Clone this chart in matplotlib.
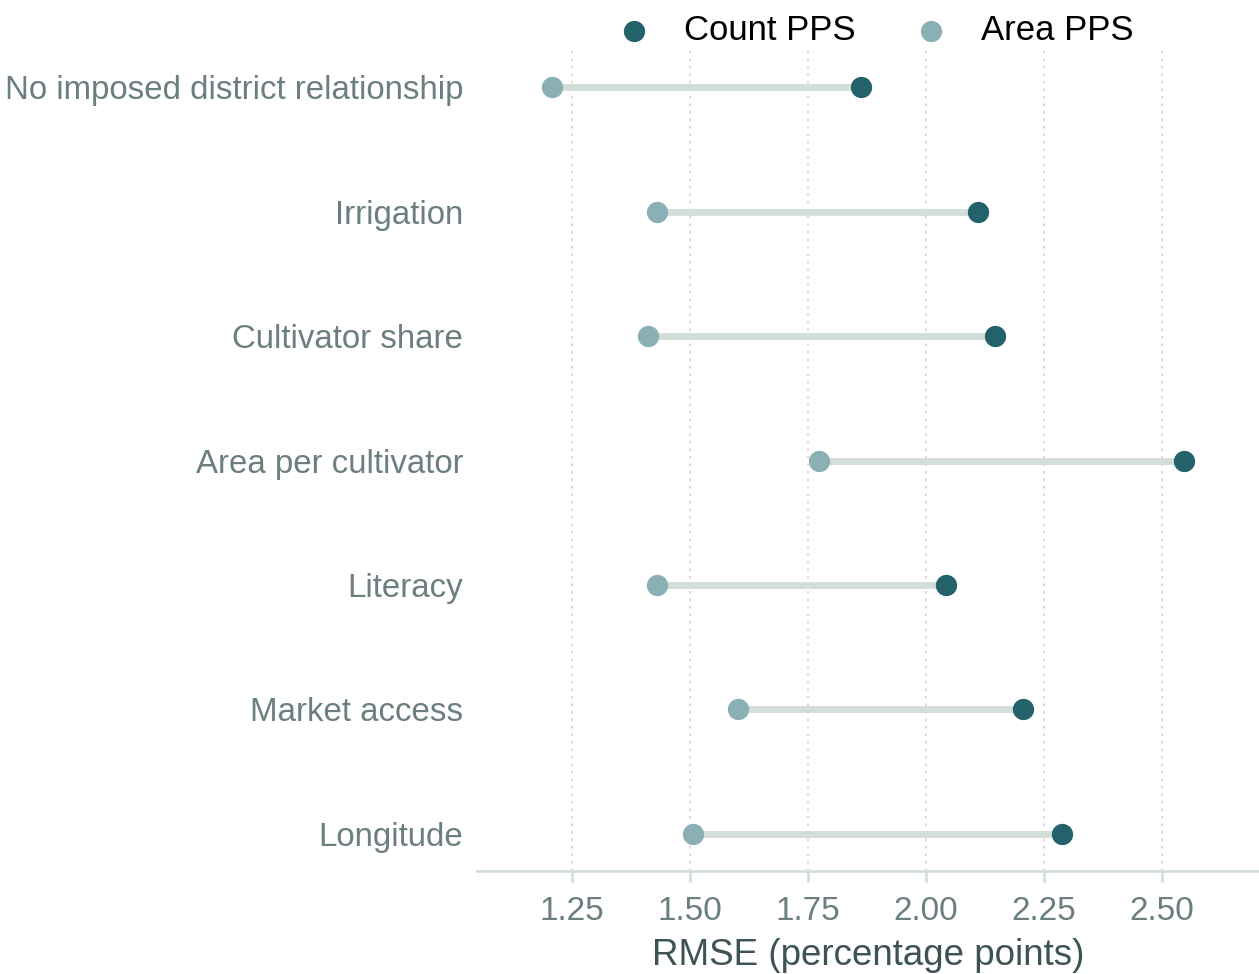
import matplotlib
matplotlib.use("Agg")
import matplotlib.pyplot as plt

categories = ["No imposed district relationship", "Irrigation", "Cultivator share",
              "Area per cultivator", "Literacy", "Market access", "Longitude"]
count_pps = [1.862, 2.110, 2.146, 2.547, 2.042, 2.205, 2.288]
area_pps = [1.208, 1.430, 1.411, 1.773, 1.430, 1.602, 1.506]
xticks = [1.25, 1.50, 1.75, 2.00, 2.25, 2.50]

plt.rcParams['font.family'] = ['Liberation Sans', 'DejaVu Sans']

count_col = '#23626a'
area_col = '#8aafb5'
seg_col = '#d3dedb'
label_col = '#6b7f80'

fig = plt.figure(figsize=(12.59, 9.74), dpi=100)
ax = fig.add_axes([0.379, 0.1057, 0.621, 0.843])

ypos = list(range(len(categories) - 1, -1, -1))

ax.hlines(ypos, area_pps, count_pps, color=seg_col, linewidth=5, zorder=2)
ax.scatter(count_pps, ypos, s=235, color=count_col, label='Count PPS', zorder=3, linewidths=0)
ax.scatter(area_pps, ypos, s=235, color=area_col, label='Area PPS', zorder=3, linewidths=0)

ax.set_xlim(1.049, 2.705)
ax.set_ylim(-0.3, 6.3)
ax.set_xticks(xticks)
ax.set_xticklabels(['%.2f' % t for t in xticks])
ax.set_yticks(ypos)
ax.set_yticklabels(categories)

ax.grid(axis='x', color='#d4d4d4', linestyle=(0, (1.5, 3)), linewidth=1.2)
ax.set_axisbelow(True)

for s in ['top', 'right', 'left']:
    ax.spines[s].set_visible(False)
ax.spines['bottom'].set_color(seg_col)
ax.spines['bottom'].set_linewidth(2)

ax.tick_params(axis='x', colors=seg_col, labelcolor=label_col, labelsize=24,
               length=8, width=2, pad=10)
ax.tick_params(axis='y', length=0, labelcolor=label_col, labelsize=23.8, pad=10)

ax.set_xlabel('RMSE (percentage points)', fontsize=26.5, color='#3d5356', labelpad=8)

ax.legend(loc='lower center', bbox_to_anchor=(0.498, 0.965), ncol=2, frameon=False,
          fontsize=25, handletextpad=0.45, columnspacing=1.15, markerscale=1.0)

fig.savefig('out.png', dpi=100)
